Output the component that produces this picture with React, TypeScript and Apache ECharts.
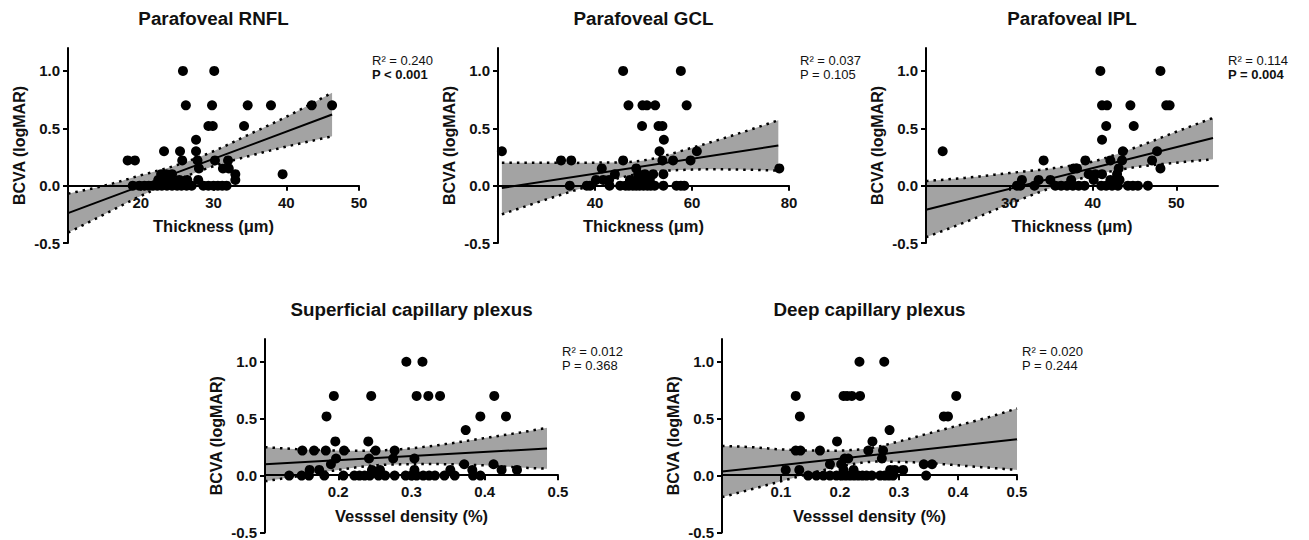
import React, { useEffect, useRef } from 'react';
import * as echarts from 'echarts';

const FONT = '"Liberation Sans", Arial, Helvetica, sans-serif';

// ---------- text ----------
const panelTitles = [
  'Parafoveal RNFL',
  'Parafoveal GCL',
  'Parafoveal IPL',
  'Superficial capillary plexus',
  'Deep capillary plexus',
];
const xAxisNames = [
  'Thickness (μm)',
  'Thickness (μm)',
  'Thickness (μm)',
  'Vesssel density (%)',
  'Vesssel density (%)',
];
const yAxisName = 'BCVA (logMAR)';
const r2Labels = ['R² = 0.240', 'R² = 0.037', 'R² = 0.114', 'R² = 0.012', 'R² = 0.020'];
const pLabels = ['P < 0.001', 'P = 0.105', 'P = 0.004', 'P = 0.368', 'P = 0.244'];
const pBold = [true, false, true, false, false];

// ---------- axes ----------
const yRange = [-0.5, 1.2];
const yTicks = [-0.5, 0, 0.5, 1.0];
const xRanges = [[10, 50], [20, 80], [20, 55], [0.1, 0.5], [0, 0.5]];
const xTicks = [
  [20, 30, 40, 50],
  [40, 60, 80],
  [30, 40, 50],
  [0.2, 0.3, 0.4, 0.5],
  [0.1, 0.2, 0.3, 0.4, 0.5],
];
const xDecimals = [0, 0, 0, 1, 1];

// ---------- scatter data [x, BCVA] ----------
const rnflPoints = [
  [25.8, 1.0], [30.1, 1.0],
  [26.2, 0.7], [29.8, 0.7], [34.7, 0.7], [37.9, 0.7], [43.5, 0.7], [46.3, 0.7],
  [29.3, 0.52], [29.9, 0.52], [34.2, 0.52],
  [27.6, 0.4],
  [23.2, 0.3], [25.4, 0.3], [27.6, 0.3],
  [18.2, 0.22], [19.2, 0.22], [25.7, 0.22], [27.8, 0.22], [30.2, 0.22], [32.0, 0.22],
  [28.0, 0.15], [31.3, 0.15], [32.1, 0.15],
  [39.5, 0.1], [33.0, 0.1], [22.8, 0.1], [23.5, 0.1], [24.3, 0.1],
  [33.0, 0.05], [22.4, 0.05], [23.1, 0.05], [24.1, 0.05], [25.3, 0.05], [26.4, 0.05], [27.9, 0.05],
  [18.9, 0], [19.8, 0], [20.5, 0], [21.1, 0], [21.7, 0], [22.3, 0], [22.9, 0], [23.6, 0],
  [24.3, 0], [25.0, 0], [25.6, 0], [26.3, 0], [27.0, 0], [28.6, 0], [29.3, 0], [30.0, 0],
  [30.6, 0], [31.2, 0], [31.8, 0],
];
const gclPoints = [
  [20.8, 0.3],
  [45.8, 1.0], [57.7, 1.0],
  [46.9, 0.7], [49.8, 0.7], [50.7, 0.7], [52.4, 0.7], [58.9, 0.7],
  [49.7, 0.52], [53.1, 0.52], [53.9, 0.52],
  [54.2, 0.4],
  [53.3, 0.3], [61.0, 0.3],
  [33.0, 0.22], [35.1, 0.22], [45.8, 0.22], [53.9, 0.22], [56.1, 0.22], [59.7, 0.22],
  [41.4, 0.15], [48.5, 0.15], [78.0, 0.15],
  [44.1, 0.1], [48.9, 0.1], [50.3, 0.1], [52.0, 0.1], [54.1, 0.1],
  [40.2, 0.05], [41.7, 0.05], [42.9, 0.05], [47.2, 0.05], [48.6, 0.05], [49.6, 0.05], [51.3, 0.05],
  [34.8, 0], [38.3, 0], [39.0, 0], [43.0, 0], [45.2, 0], [46.3, 0], [47.0, 0], [47.8, 0],
  [48.5, 0], [49.2, 0], [50.0, 0], [50.8, 0], [51.5, 0], [52.3, 0], [54.1, 0], [56.8, 0],
  [57.7, 0], [58.4, 0],
];
const iplPoints = [
  [22.0, 0.3],
  [40.9, 1.0], [48.1, 1.0],
  [41.1, 0.7], [41.7, 0.7], [44.5, 0.7], [48.8, 0.7], [49.2, 0.7],
  [41.6, 0.52], [44.9, 0.52],
  [41.1, 0.4],
  [43.6, 0.3], [47.7, 0.3],
  [34.1, 0.22], [39.1, 0.22], [42.1, 0.22], [43.5, 0.22], [47.1, 0.22],
  [37.7, 0.15], [38.1, 0.15], [43.1, 0.15], [48.1, 0.15],
  [39.5, 0.1], [40.3, 0.1], [41.1, 0.1], [42.9, 0.1],
  [31.5, 0.05], [33.5, 0.05], [34.9, 0.05], [37.4, 0.05], [40.1, 0.05], [42.1, 0.05], [43.2, 0.05],
  [30.9, 0], [31.3, 0], [33.0, 0], [35.5, 0], [36.2, 0], [36.9, 0], [37.6, 0], [38.3, 0],
  [39.0, 0], [41.0, 0], [41.6, 0], [42.3, 0], [43.0, 0], [44.2, 0], [44.8, 0], [45.4, 0], [46.6, 0],
];
const scpPoints = [
  [0.293, 1.0], [0.315, 1.0],
  [0.194, 0.7], [0.245, 0.7], [0.307, 0.7], [0.323, 0.7], [0.339, 0.7], [0.413, 0.7],
  [0.184, 0.52], [0.394, 0.52], [0.429, 0.52],
  [0.374, 0.4],
  [0.196, 0.3], [0.241, 0.3],
  [0.151, 0.22], [0.167, 0.22], [0.183, 0.22], [0.208, 0.22], [0.251, 0.22], [0.277, 0.22],
  [0.197, 0.15], [0.242, 0.15], [0.275, 0.15], [0.304, 0.15],
  [0.19, 0.1], [0.372, 0.1], [0.412, 0.1],
  [0.161, 0.05], [0.174, 0.05], [0.246, 0.05], [0.257, 0.05], [0.304, 0.05], [0.353, 0.05],
  [0.383, 0.05], [0.423, 0.05], [0.444, 0.05],
  [0.133, 0], [0.15, 0], [0.16, 0], [0.181, 0], [0.207, 0], [0.222, 0], [0.229, 0], [0.236, 0],
  [0.243, 0], [0.255, 0], [0.264, 0], [0.277, 0], [0.292, 0], [0.3, 0], [0.307, 0], [0.316, 0],
  [0.324, 0], [0.332, 0], [0.345, 0], [0.359, 0], [0.384, 0], [0.394, 0],
];
const dcpPoints = [
  [0.233, 1.0], [0.275, 1.0],
  [0.125, 0.7], [0.206, 0.7], [0.212, 0.7], [0.22, 0.7], [0.234, 0.7], [0.397, 0.7],
  [0.132, 0.52], [0.376, 0.52], [0.383, 0.52],
  [0.284, 0.4],
  [0.195, 0.3], [0.255, 0.3],
  [0.125, 0.22], [0.133, 0.22], [0.166, 0.22], [0.248, 0.22], [0.273, 0.22],
  [0.208, 0.15], [0.214, 0.15], [0.271, 0.15],
  [0.183, 0.1], [0.202, 0.1], [0.342, 0.1], [0.356, 0.1],
  [0.108, 0.05], [0.131, 0.05], [0.206, 0.05], [0.223, 0.05], [0.285, 0.05], [0.293, 0.05], [0.307, 0.05],
  [0.146, 0], [0.16, 0], [0.172, 0], [0.183, 0], [0.194, 0], [0.203, 0], [0.21, 0], [0.217, 0],
  [0.224, 0], [0.231, 0], [0.238, 0], [0.245, 0], [0.254, 0], [0.268, 0], [0.276, 0], [0.283, 0],
  [0.29, 0], [0.346, 0],
];

// ---------- regression lines (end points) ----------
const rnflFit = [[10, -0.24], [46.3, 0.62]];
const gclFit = [[20.8, -0.02], [77.8, 0.35]];
const iplFit = [[20, -0.21], [54.4, 0.415]];
const scpFit = [[0.1, 0.1], [0.485, 0.238]];
const dcpFit = [[0, 0.035], [0.5, 0.32]];

// ---------- 95% confidence bands (read at sample x) ----------
const rnflCiX = [10, 15, 20, 25, 30, 35, 40, 46.3];
const rnflCiUpper = [-0.07, 0.0, 0.09, 0.18, 0.3, 0.45, 0.6, 0.81];
const rnflCiLower = [-0.41, -0.25, -0.09, 0.05, 0.17, 0.26, 0.34, 0.43];

const gclCiX = [20.8, 30, 40, 50, 60, 70, 77.8];
const gclCiUpper = [0.2, 0.2, 0.2, 0.22, 0.33, 0.46, 0.57];
const gclCiLower = [-0.25, -0.12, 0.01, 0.11, 0.14, 0.14, 0.13];

const iplCiX = [20, 25, 30, 35, 40, 45, 50, 54.4];
const iplCiUpper = [0.04, 0.07, 0.11, 0.15, 0.21, 0.33, 0.47, 0.59];
const iplCiLower = [-0.45, -0.31, -0.16, -0.02, 0.09, 0.16, 0.2, 0.23];

const scpCiX = [0.1, 0.15, 0.2, 0.25, 0.3, 0.35, 0.4, 0.45, 0.485];
const scpCiUpper = [0.25, 0.23, 0.22, 0.22, 0.24, 0.28, 0.33, 0.38, 0.42];
const scpCiLower = [-0.05, 0.0, 0.05, 0.09, 0.1, 0.1, 0.09, 0.07, 0.06];

const dcpCiX = [0, 0.05, 0.1, 0.15, 0.2, 0.25, 0.3, 0.35, 0.4, 0.45, 0.5];
const dcpCiUpper = [0.26, 0.25, 0.23, 0.22, 0.22, 0.24, 0.3, 0.37, 0.44, 0.51, 0.59];
const dcpCiLower = [-0.19, -0.12, -0.05, 0.02, 0.08, 0.12, 0.12, 0.11, 0.09, 0.07, 0.05];

const allPoints = [rnflPoints, gclPoints, iplPoints, scpPoints, dcpPoints];
const allFits = [rnflFit, gclFit, iplFit, scpFit, dcpFit];
const allCi = [
  { x: rnflCiX, up: rnflCiUpper, lo: rnflCiLower },
  { x: gclCiX, up: gclCiUpper, lo: gclCiLower },
  { x: iplCiX, up: iplCiUpper, lo: iplCiLower },
  { x: scpCiX, up: scpCiUpper, lo: scpCiLower },
  { x: dcpCiX, up: dcpCiUpper, lo: dcpCiLower },
];

// ---------- layout ----------
const grids = [
  { left: 68, top: 48, width: 291, height: 195 },
  { left: 498, top: 48, width: 291, height: 195 },
  { left: 926, top: 48, width: 292, height: 195 },
  { left: 265, top: 339, width: 293, height: 195 },
  { left: 722, top: 339, width: 295, height: 195 },
];
const statsPos = [
  [372, 60], [800, 60], [1228, 60], [562, 351], [1022, 351],
];

// Catmull-Rom curve through pixel points (drawing only)
function smoothPixels(pts: number[][], steps = 14): number[][] {
  const out: number[][] = [];
  const n = pts.length;
  for (let i = 0; i < n - 1; i++) {
    const p0 = pts[Math.max(0, i - 1)];
    const p1 = pts[i];
    const p2 = pts[i + 1];
    const p3 = pts[Math.min(n - 1, i + 2)];
    for (let s = 0; s < steps; s++) {
      const t = s / steps;
      const t2 = t * t;
      const t3 = t2 * t;
      const f = (a: number, b: number, c: number, d: number) =>
        0.5 * (2 * b + (-a + c) * t + (2 * a - 5 * b + 4 * c - d) * t2 + (-a + 3 * b - 3 * c + d) * t3);
      out.push([f(p0[0], p1[0], p2[0], p3[0]), f(p0[1], p1[1], p2[1], p3[1])]);
    }
  }
  out.push(pts[n - 1]);
  return out;
}

function buildOption() {
  const textColor = '#111';
  const axisLineStyle = { color: '#000', width: 2 };

  const xAxis = grids.map((g, i) => ({
    gridIndex: i,
    type: 'value',
    min: xRanges[i][0],
    max: xRanges[i][1],
    name: xAxisNames[i],
    nameLocation: 'middle',
    nameGap: 32,
    nameTextStyle: { fontSize: 16.5, fontWeight: 'bold', color: textColor, fontFamily: FONT },
    // put the x axis at BCVA = 0 (moved up from the grid bottom)
    offset: -((0 - yRange[0]) / (yRange[1] - yRange[0])) * g.height,
    axisLine: { show: true, onZero: false, lineStyle: axisLineStyle },
    axisTick: { show: true, length: 5, lineStyle: axisLineStyle, customValues: xTicks[i] },
    axisLabel: {
      customValues: xTicks[i],
      formatter: (v: number) => v.toFixed(xDecimals[i]),
      fontSize: 15,
      fontWeight: 'bold',
      color: textColor,
      fontFamily: FONT,
      margin: 9,
    },
    splitLine: { show: false },
    z: 2,
  }));

  const yAxis = grids.map((_, i) => ({
    gridIndex: i,
    type: 'value',
    min: yRange[0],
    max: yRange[1],
    name: yAxisName,
    nameLocation: 'middle',
    nameRotate: 90,
    nameGap: 41,
    nameTextStyle: { fontSize: 16, fontWeight: 'bold', color: textColor, fontFamily: FONT },
    axisLine: { show: true, onZero: false, lineStyle: axisLineStyle },
    axisTick: { show: true, length: 5, lineStyle: axisLineStyle, customValues: yTicks },
    axisLabel: {
      customValues: yTicks,
      formatter: (v: number) => v.toFixed(1),
      fontSize: 15,
      fontWeight: 'bold',
      color: textColor,
      fontFamily: FONT,
      margin: 8,
    },
    splitLine: { show: false },
    z: 2,
  }));

  const series: any[] = [];
  grids.forEach((_, i) => {
    const ci = allCi[i];
    // confidence band: grey fill + dotted bounds, positioned through the axes (api.coord)
    series.push({
      type: 'custom',
      xAxisIndex: i,
      yAxisIndex: i,
      data: [[ci.x[0], ci.lo[0]]],
      silent: true,
      z: 1,
      renderItem: (_params: any, api: any) => {
        const up = smoothPixels(ci.x.map((x, k) => api.coord([x, ci.up[k]])));
        const lo = smoothPixels(ci.x.map((x, k) => api.coord([x, ci.lo[k]])));
        const poly = up.concat(lo.slice().reverse());
        const dotted = { stroke: '#000', lineWidth: 2.5, lineDash: [2.5, 5], fill: null };
        return {
          type: 'group',
          children: [
            { type: 'polygon', shape: { points: poly }, style: { fill: '#a3a3a3', stroke: null } },
            { type: 'polyline', shape: { points: up }, style: dotted },
            { type: 'polyline', shape: { points: lo }, style: dotted },
          ],
        };
      },
    });
    series.push({
      type: 'line',
      xAxisIndex: i,
      yAxisIndex: i,
      data: allFits[i],
      symbol: 'none',
      lineStyle: { color: '#000', width: 2 },
      silent: true,
      z: 3,
    });
    series.push({
      type: 'scatter',
      xAxisIndex: i,
      yAxisIndex: i,
      data: allPoints[i],
      symbol: 'circle',
      symbolSize: 10,
      itemStyle: { color: '#000', opacity: 1 },
      z: 4,
    });
  });

  const graphic: any[] = [];
  grids.forEach((g, i) => {
    graphic.push({
      type: 'text',
      x: g.left + g.width / 2,
      y: g.top - 30,
      style: {
        text: panelTitles[i],
        fontSize: 18.8,
        fontWeight: 'bold',
        fontFamily: FONT,
        fill: textColor,
        align: 'center',
        verticalAlign: 'middle',
      },
    });
    graphic.push({
      type: 'text',
      x: statsPos[i][0],
      y: statsPos[i][1],
      style: {
        text: r2Labels[i],
        fontSize: 13,
        fontFamily: FONT,
        fill: textColor,
        align: 'left',
        verticalAlign: 'middle',
      },
    });
    graphic.push({
      type: 'text',
      x: statsPos[i][0],
      y: statsPos[i][1] + 14,
      style: {
        text: pLabels[i],
        fontSize: 13,
        fontWeight: pBold[i] ? 'bold' : 'normal',
        fontFamily: FONT,
        fill: textColor,
        align: 'left',
        verticalAlign: 'middle',
      },
    });
  });

  return {
    animation: false,
    backgroundColor: '#fff',
    grid: grids.map((g) => ({ ...g, containLabel: false })),
    xAxis,
    yAxis,
    series,
    graphic,
  };
}

export default function App() {
  const ref = useRef<HTMLDivElement>(null);
  useEffect(() => {
    if (!ref.current) return;
    const chart = echarts.init(ref.current, null, { renderer: 'svg' });
    chart.setOption(buildOption() as any);
    return () => chart.dispose();
  }, []);
  return (
    <div
      ref={ref}
      style={{ position: 'fixed', left: 0, top: 0, width: 1309, height: 540, background: '#fff' }}
    />
  );
}
